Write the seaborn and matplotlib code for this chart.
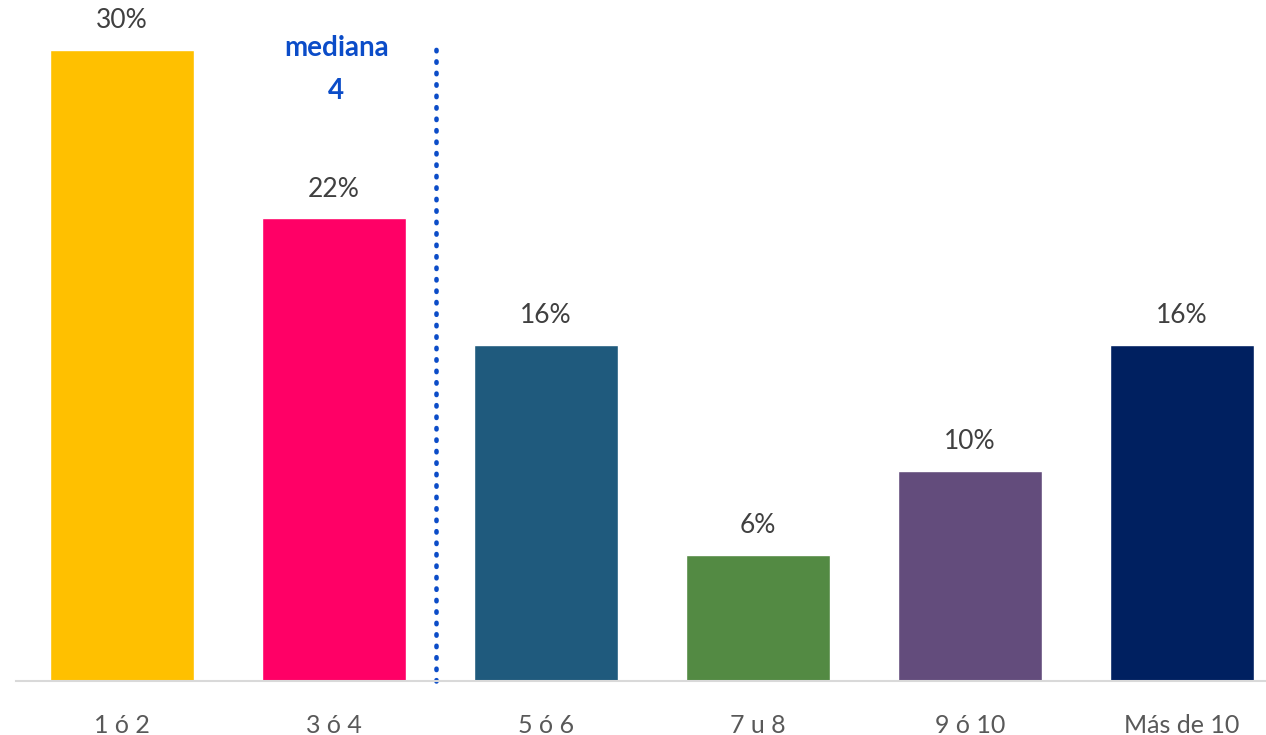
import matplotlib
matplotlib.use("Agg")
import matplotlib.pyplot as plt
import seaborn as sns
import pandas as pd

categories = ["1 ó 2", "3 ó 4", "5 ó 6", "7 u 8", "9 ó 10", "Más de 10"]
values = [30, 22, 16, 6, 10, 16]
colors = ["#FFC000", "#FF0066", "#1F5A7D", "#538A43", "#634C7C", "#002060"]
median_title = "mediana"
median_value = "4"
median_pos = 1.48

sns.set_theme(style="white")
plt.rcParams["font.family"] = ["Lato", "DejaVu Sans"]

df = pd.DataFrame({"cat": categories, "val": values})

fig = plt.figure(figsize=(12.66, 7.35), dpi=100)
ax = fig.add_axes([16 / 1266, 54 / 735, 1250 / 1266, 681 / 735])

sns.barplot(data=df, x="cat", y="val", hue="cat", palette=colors,
            width=0.68, saturation=1, legend=False, ax=ax)

ax.set_xlim(-0.5, -0.5 + 1250 / 212)
ax.set_ylim(0, 681 / 21.03)

for i, v in enumerate(values):
    ax.text(i, v + 0.8, f"{v}%", ha="center", va="bottom",
            fontsize=19, color="#404040")

# dotted median marker between the second and third bars
ax.plot([median_pos, median_pos], [0, 30.1], linestyle=(0, (0.3, 2.2)),
        dash_capstyle="round", color="#0B4CC8", linewidth=3.3, clip_on=False)
ax.text(1.01, 30.1, median_title, ha="center", va="center", fontsize=20,
        fontweight="bold", color="#0B4CC8")
ax.text(1.01, 28.05, median_value, ha="center", va="center", fontsize=20,
        fontweight="bold", color="#0B4CC8")

for s in ["top", "right", "left"]:
    ax.spines[s].set_visible(False)
ax.spines["bottom"].set_color("#D9D9D9")
ax.spines["bottom"].set_linewidth(1.5)
ax.set_yticks([])
ax.set_xlabel("")
ax.set_ylabel("")
ax.tick_params(axis="x", length=0, labelsize=18, labelcolor="#595959", pad=24)

fig.savefig("out.png", dpi=100)
